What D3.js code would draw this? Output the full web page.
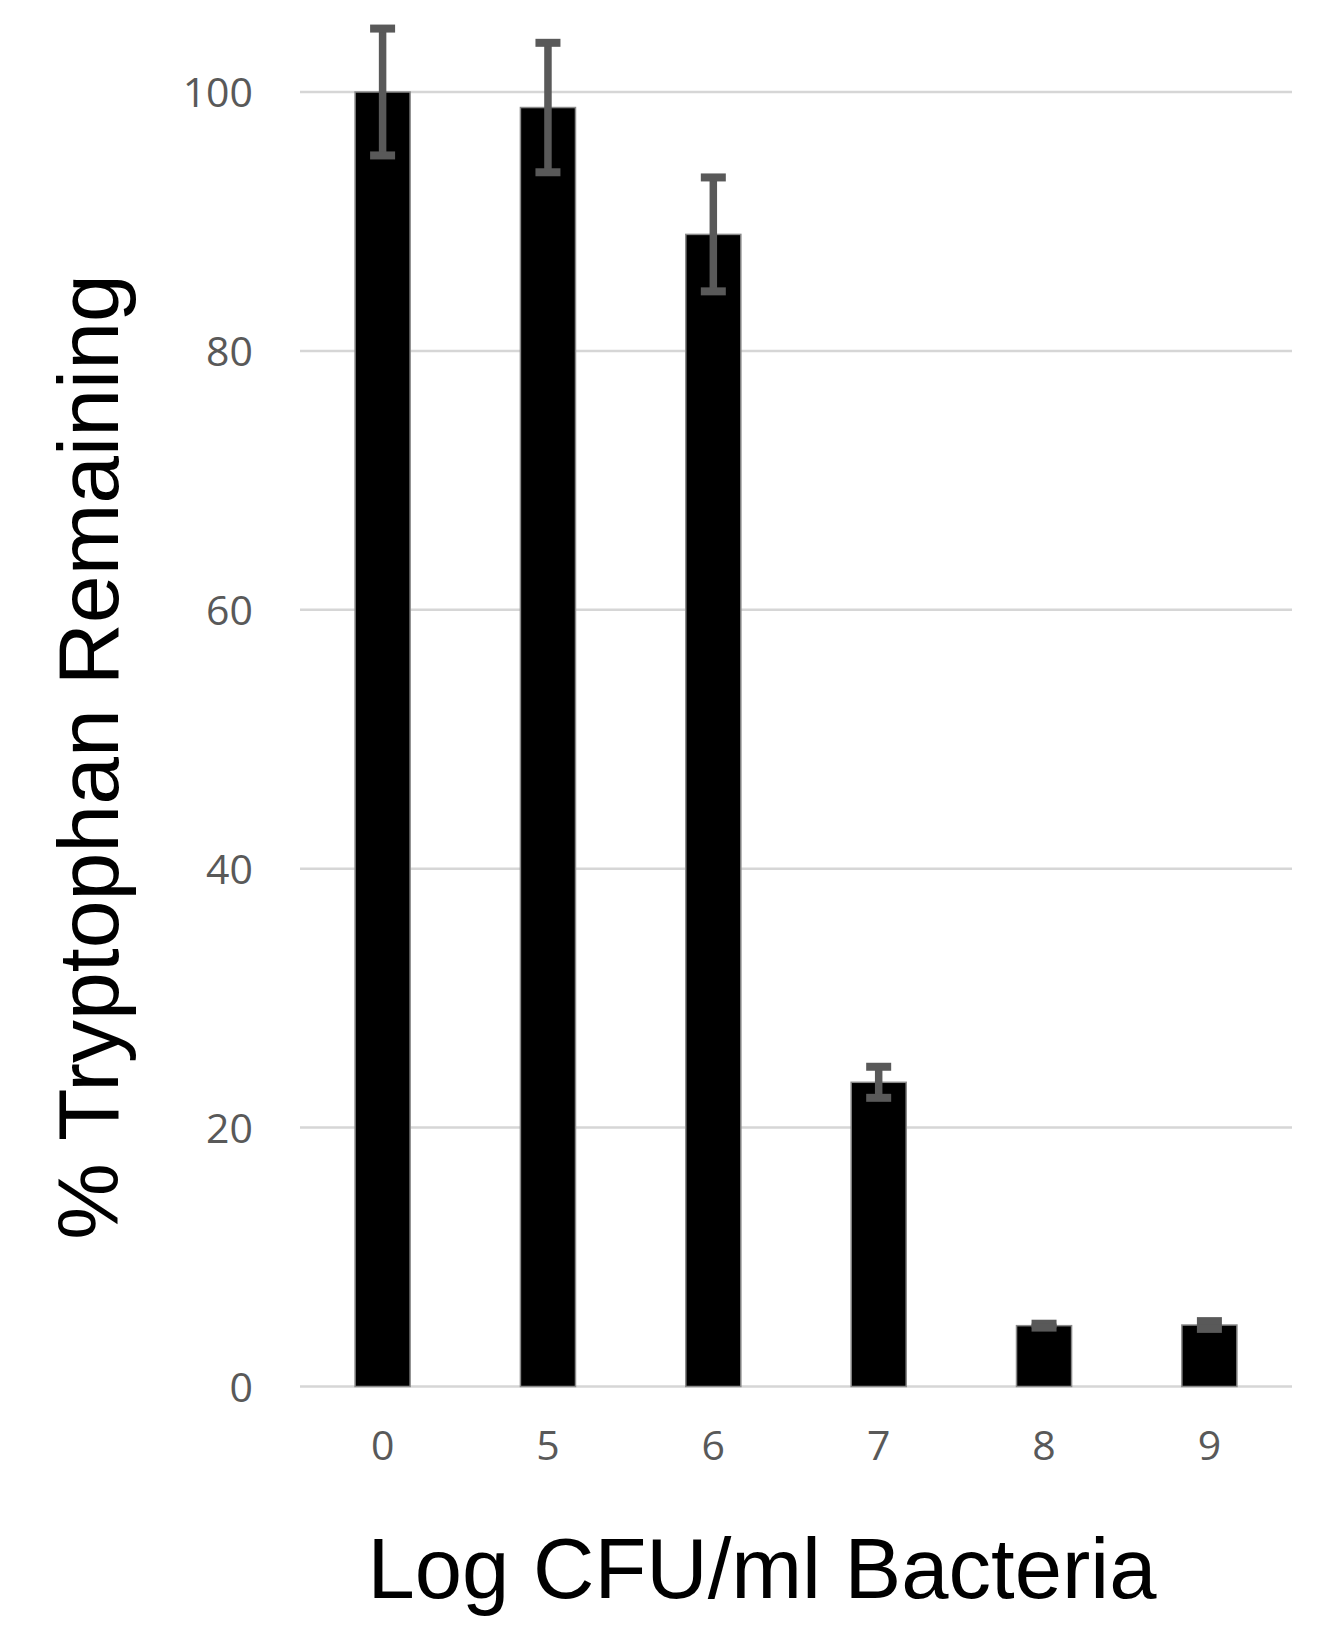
<!DOCTYPE html>
<html>
<head>
<meta charset="utf-8">
<script src="https://cdn.jsdelivr.net/npm/d3@7"></script>
<style>
  body {margin: 0; background: #fff;}
  .tick text {font-family: "Open Sans", sans-serif; fill: #595959;}
  .title {font-family: "Liberation Sans", Arial, sans-serif; fill: #000;}
</style>
</head>
<body>
<div id="chart"></div>
<script>
// data
var doses = ["0", "5", "6", "7", "8", "9"];
var remaining = [100, 98.8, 89, 23.5, 4.7, 4.75];
var errors = [4.9, 5.0, 4.4, 1.2, 0.15, 0.3];
var yTicks = [0, 20, 40, 60, 80, 100];

var W = 1331, H = 1637;
var margin = {top: 92, right: 39, bottom: 250.5, left: 300};
var width = W - margin.left - margin.right,
    height = H - margin.top - margin.bottom;

var svg = d3.select("#chart")
  .append("svg")
    .attr("width", W)
    .attr("height", H);

var g = svg.append("g")
    .attr("transform", "translate(" + margin.left + "," + margin.top + ")");

var x = d3.scaleBand()
    .domain(doses)
    .range([0, width])
    .paddingInner(0.667)
    .paddingOuter(0.333);

var y = d3.scaleLinear()
    .domain([0, 100])
    .range([height, 0]);

// gridlines
g.selectAll(".grid")
  .data(yTicks)
  .enter().append("line")
    .attr("class", "grid")
    .attr("x1", 0)
    .attr("x2", width)
    .attr("y1", function(d) { return y(d); })
    .attr("y2", function(d) { return y(d); })
    .attr("stroke", "#d6d6d6")
    .attr("stroke-width", 2.5);

// y axis labels
var yAxis = g.append("g")
    .call(d3.axisLeft(y).tickValues(yTicks).tickSize(0).tickPadding(47));
yAxis.select(".domain").remove();
yAxis.selectAll("text").attr("font-size", 41).attr("dy", "0.36em");

// x axis labels
var xAxis = g.append("g")
    .attr("transform", "translate(0," + height + ")")
    .call(d3.axisBottom(x).tickSize(0).tickPadding(44));
xAxis.select(".domain").remove();
xAxis.selectAll("text").attr("font-size", 41);

// bars
g.selectAll(".bar")
  .data(remaining)
  .enter().append("rect")
    .attr("class", "bar")
    .attr("x", function(d, i) { return x(doses[i]); })
    .attr("width", x.bandwidth())
    .attr("y", function(d) { return y(d); })
    .attr("height", function(d) { return height - y(d); })
    .attr("fill", "#000")
    .attr("stroke", "#8a8a8a")
    .attr("stroke-width", 1.5);

// error bars
var capW = 25;
var err = g.selectAll(".err")
  .data(remaining)
  .enter().append("g")
    .attr("class", "err")
    .attr("transform", function(d, i) { return "translate(" + (x(doses[i]) + x.bandwidth() / 2) + ",0)"; });

err.append("line")
    .attr("x1", 0).attr("x2", 0)
    .attr("y1", function(d, i) { return y(d + errors[i]); })
    .attr("y2", function(d, i) { return y(d - errors[i]); })
    .attr("stroke", "#595959")
    .attr("stroke-width", 7.5);

err.selectAll(".cap")
  .data(function(d, i) { return [d + errors[i], d - errors[i]]; })
  .enter().append("line")
    .attr("class", "cap")
    .attr("x1", -capW / 2).attr("x2", capW / 2)
    .attr("y1", function(v) { return y(v); })
    .attr("y2", function(v) { return y(v); })
    .attr("stroke", "#595959")
    .attr("stroke-width", 8);

// axis titles
svg.append("text")
    .attr("class", "title")
    .attr("transform", "translate(118," + 757 + ") rotate(-90)")
    .attr("text-anchor", "middle")
    .attr("font-size", 86)
    .text("% Tryptophan Remaining");

svg.append("text")
    .attr("class", "title")
    .attr("x", 762)
    .attr("y", 1598)
    .attr("text-anchor", "middle")
    .attr("font-size", 85)
    .text("Log CFU/ml Bacteria");
</script>
</body>
</html>
